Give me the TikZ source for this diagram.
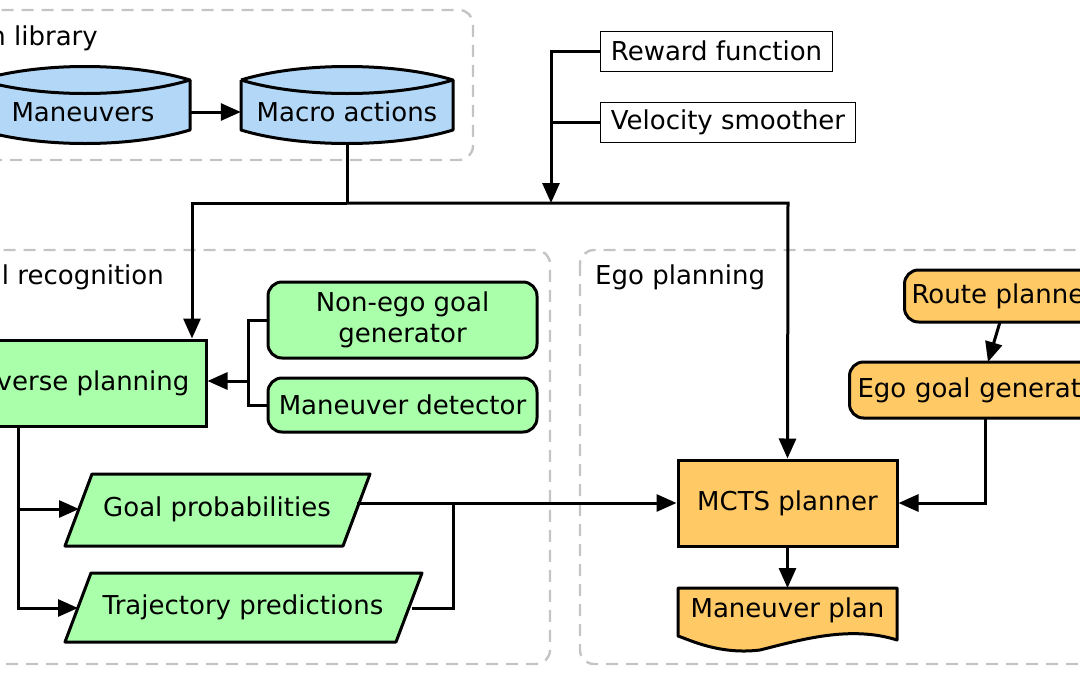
\documentclass[tikz,border=0pt]{standalone}
\usepackage{fontspec}
\setmainfont{DejaVu Sans}
\usetikzlibrary{arrows.meta}
\definecolor{cblue}{HTML}{B3D7F7}
\definecolor{cgreen}{HTML}{AAFFAA}
\definecolor{corange}{HTML}{FFC966}
\definecolor{cgray}{HTML}{C4C4C4}
\begin{document}
\begin{tikzpicture}[x=1pt,y=-1pt,
  every node/.style={font=\fontsize{26}{31}\selectfont},
  shp/.style={line width=3pt,line join=round},
  grp/.style={draw=cgray,line width=2.4pt,dash pattern=on 12pt off 8pt,rounded corners=14pt},
  box/.style={draw,line width=3pt,minimum height=0,inner sep=0},
  plain/.style={draw,line width=1pt,inner sep=6pt,minimum height=40pt},
  con/.style={line width=3pt,-{Triangle[length=20pt,width=17pt]}},
  ln/.style={line width=3pt}]
\clip (0,0) rectangle (1080,675);
\useasboundingbox (0,0) rectangle (1080,675);
% groups
\draw[grp] (-100,10) rectangle (473,160);
\draw[grp] (-100,250) rectangle (550,664);
\draw[grp] (580,250) rectangle (1180,664);
\node[anchor=base east,inner sep=0] (l1) at (98,45) {Action library};
\node[anchor=base east,inner sep=0] (l2) at (164,284) {Goal recognition};
\node[anchor=base west,inner sep=0] (l3) at (595,284) {Ego planning};
% cylinders
\fill[cblue] (-20,80) .. controls (40,62) and (130,62) .. (190,80) -- (190,130) .. controls (130,148) and (40,148) .. (-20,130) -- cycle;
\draw[shp] (-20,80) .. controls (40,62) and (130,62) .. (190,80) .. controls (130,98) and (40,98) .. (-20,80);
\draw[shp] (190,80) -- (190,130) .. controls (130,148) and (40,148) .. (-20,130);
\node (man) at (83,112) [minimum width=214pt,minimum height=60pt] {Maneuvers};
\fill[cblue] (241,80) .. controls (300,62) and (394,62) .. (453,80) -- (453,130) .. controls (394,148) and (300,148) .. (241,130) -- cycle;
\draw[shp] (241,80) .. controls (300,62) and (394,62) .. (453,80) .. controls (394,98) and (300,98) .. (241,80);
\draw[shp] (241,80) -- (241,130) .. controls (300,148) and (394,148) .. (453,130) -- (453,80);
\node (mac) at (347,112) [minimum width=212pt,minimum height=60pt] {Macro actions};
% plain boxes
\node[plain,anchor=west,minimum width=232pt] (rew) at (600,51) {Reward function};
\node[plain,anchor=west,minimum width=255pt] (vel) at (600,122) {Velocity smoother};
% green
\node[box,fill=cgreen,minimum width=250pt,minimum height=86pt] (inv) at (81,383) {Inverse planning};
\node[box,fill=cgreen,rounded corners=14pt,minimum width=269pt,minimum height=76pt,align=center] (neg) at (402.5,320) {Non-ego goal\\generator};
\node[box,fill=cgreen,rounded corners=14pt,minimum width=269pt,minimum height=54pt] (mdt) at (402.5,405) {Maneuver detector};
\fill[cgreen] (92,474) -- (370,474) -- (343,546) -- (65,546) -- cycle;
\draw[shp] (92,474) -- (370,474) -- (343,546) -- (65,546) -- cycle;
\node (gp) at (217,509) [minimum width=280pt,minimum height=70pt] {Goal probabilities};
\fill[cgreen] (91,573) -- (422,573) -- (396,642) -- (65,642) -- cycle;
\draw[shp] (91,573) -- (422,573) -- (396,642) -- (65,642) -- cycle;
\node (tp) at (243,607) [minimum width=330pt,minimum height=68pt] {Trajectory predictions};
% orange
\node[box,fill=corange,minimum width=219pt,minimum height=86pt] (mcts) at (787.5,503) {MCTS planner};
\fill[corange] (678,588) -- (897,588) -- (897,640) .. controls (850,625) and (800,640) .. (760,650) .. controls (720,655) and (690,640) .. (678,636) -- cycle;
\draw[shp] (678,588) -- (897,588) -- (897,640) .. controls (850,625) and (800,640) .. (760,650) .. controls (720,655) and (690,640) .. (678,636) -- cycle;
\node (mp) at (787.5,610) [minimum width=219pt,minimum height=44pt] {Maneuver plan};
\node[box,fill=corange,rounded corners=14pt,minimum width=240pt,minimum height=52pt,anchor=west,text width=230pt,align=left] (rp) at (903,296) {\hspace*{2pt}Route planner};
\node[box,fill=corange,rounded corners=14pt,minimum width=290pt,minimum height=56pt,anchor=west,text width=280pt,align=left] (egg) at (848,390) {\hspace*{3pt}Ego goal generator};
% connectors
\draw[con] (man.east) -- (mac.west);
\coordinate (j1) at (551,203);
\draw[ln] (mac.south) -- (347,203) coordinate (j0);
\draw[con] (j0) -- (192,203) -- (inv.north -| 192,0);
\draw[con] (j0) -- (788,203) -- (mcts.north);
\draw[ln] (rew.west) -- (551,51) -- (551,122);
\draw[con] (vel.west) -- (551,122) -- (j1);
\coordinate (b1) at (248,381);
\draw[ln] (neg.west |- 0,320) -- (248,320) -- (248,405) -- (mdt.west);
\draw[con] (b1) -- (inv.east |- b1);
\draw[con] (inv.south -| 18,0) -- (18,509) -- (gp.west -| 79,0);
\draw[con] (18,509) -- (18,608) -- (78,608);
\draw[con] (357,503) -- (mcts.west);
\draw[ln] (412,608) -- (453,608) -- (453,503);
\draw[con] (mcts.south) -- (mp.north |- 0,588);
\draw[con] (1000,322) -- (988,362);
\draw[con] (985,418) -- (985,503) -- (mcts.east);
\end{tikzpicture}
\end{document}
